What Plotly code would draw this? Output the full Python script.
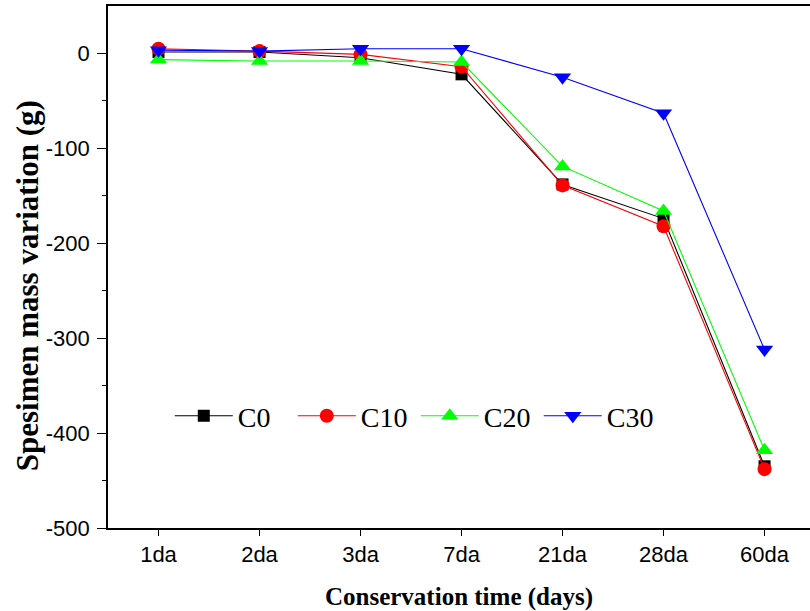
import plotly.graph_objects as go

categories = ["1da", "2da", "3da", "7da", "21da", "28da", "60da"]
c0 = [1.5, 1.5, -4.5, -22, -138, -174, -435]
c10 = [5, 2.5, -1, -14, -139, -182, -438]
c20 = [-6.5, -8, -8, -9, -119, -166, -418]
c30 = [3.5, 2.5, 5, 5, -25, -63, -312]

y_tickvals = [0, -100, -200, -300, -400, -500]
y_ticktext = ["0", "-100", "-200", "-300", "-400", "-500"]

series = [
    ("C0", c0, "#000000", "square", 12),
    ("C10", c10, "#ff0000", "circle", 14),
    ("C20", c20, "#00ff00", "triangle-up", 15),
    ("C30", c30, "#0000ff", "triangle-down", 15),
]

fig = go.Figure()
for name, vals, col, sym, sz in series:
    fig.add_trace(go.Scatter(
        x=categories, y=vals, name=name, mode="lines+markers",
        line=dict(color=col, width=1.1),
        marker=dict(symbol=sym, size=sz, color=col),
    ))

fig.update_layout(
    width=810, height=611,
    margin=dict(l=108, r=0, t=6, b=83),
    paper_bgcolor="white", plot_bgcolor="white",
    showlegend=True,
    legend=dict(
        orientation="h", x=0.088, y=0.2146, xanchor="left", yanchor="middle",
        font=dict(family="Liberation Serif", size=28, color="black"),
        bgcolor="rgba(0,0,0,0)", entrywidth=50, entrywidthmode="pixels",
        itemwidth=58, tracegroupgap=0,
    ),
    xaxis=dict(
        type="category", range=[-0.5, 6.45],
        showline=True, linecolor="black", linewidth=1.5, mirror=True,
        showgrid=False, zeroline=False,
        ticks="outside", ticklen=6, tickwidth=1.2, tickcolor="black",
        tickfont=dict(family="Liberation Sans", size=22, color="black"),
        title=dict(text="<b>Conservation time (days)</b>",
                   font=dict(family="Liberation Serif", size=25, color="black"),
                   standoff=22),
        minor=dict(ticks="outside", ticklen=4, tickcolor="black", tickwidth=1.2,
                   dtick=1, tick0=-0.5, showgrid=False),
    ),
    yaxis=dict(
        range=[-500, 50],
        showline=True, linecolor="black", linewidth=1.5, mirror=False,
        showgrid=False, zeroline=False,
        tickvals=y_tickvals, ticktext=y_ticktext,
        ticks="outside", ticklen=9, tickwidth=1.2, tickcolor="black",
        ticklabelstandoff=3,
        tickfont=dict(family="Liberation Sans", size=22, color="black"),
    ),
    annotations=[dict(
        text="<b>Spesimen mass variation (g)</b>", textangle=-90,
        xref="paper", yref="paper", x=-0.115, y=(527 - 285) / 522,
        xanchor="center", yanchor="middle", showarrow=False,
        font=dict(family="Liberation Serif", size=31, color="black"),
    )],
)
fig.update_yaxes(minor=dict(ticks="outside", ticklen=4, tickcolor="black", tickwidth=1.2,
                            tickvals=[-50, -150, -250, -350, -450], showgrid=False))

fig.write_html("out.html")
